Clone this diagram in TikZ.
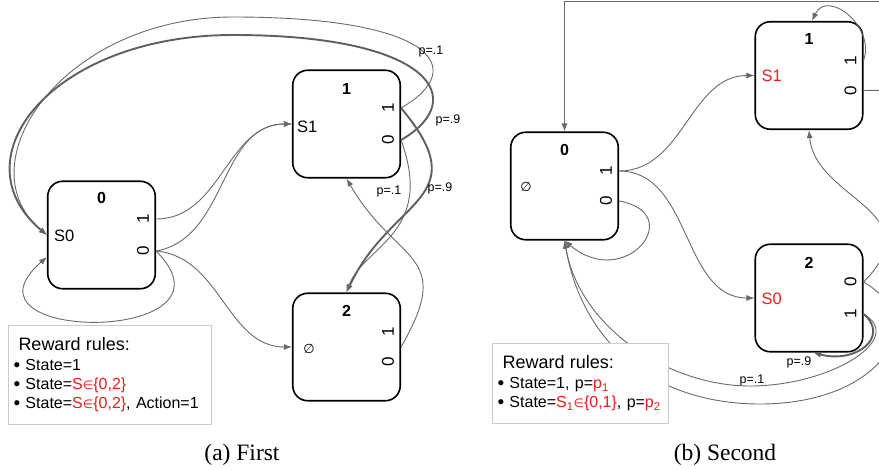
\documentclass[tikz,border=0pt]{standalone}
\usepackage{fontspec}
\setmainfont{Liberation Sans}
\newfontfamily\capfont{Liberation Serif}
\newfontfamily\symfont{DejaVu Sans}
\usetikzlibrary{shapes, arrows.meta, positioning, calc}
\definecolor{linegray}{HTML}{6A6A6A}
\definecolor{rulegray}{HTML}{CCCCCC}
\definecolor{rulered}{HTML}{F21B1B}
\def \boxsize {107.5pt}
\newcommand{\fsz}[1]{\fontsize{#1}{#1}\selectfont}
\newcommand{\bul}{\raisebox{-0.6pt}{\fsz{19}\textbullet}\ }

\begin{document}
\begin{tikzpicture}[x = 1pt, y = 1pt, >= {Latex[length = 8pt, width = 6pt]},
  state/.style = {draw, line width = 1.6pt, rounded corners = 15pt, minimum width = \boxsize, minimum height = \boxsize, inner sep = 0pt},
  title/.style = {font = \fsz{16}\bfseries, inner sep = 1pt},
  port/.style = {rotate = 90, font = \fsz{17}, inner sep = 1pt},
  inlabel/.style = {anchor = west, font = \fsz{16.5}, inner sep = 1pt},
  conn/.style = {draw = linegray, line width = 0.9pt},
  heavy/.style = {draw = linegray!90!black, line width = 1.9pt},
  prob/.style = {font = \fsz{12.5}, inner sep = 1pt},
  rules/.style = {draw = rulegray, line width = 1pt, fill = white, align = left, anchor = north west, inner xsep = 5pt, inner ysep = 0pt, font = \fontsize{16}{19}\selectfont}]
\useasboundingbox (0, 0) rectangle (879, -469);
\clip (0, 0) rectangle (879, -469);

% (a) First
\node (s0a) [state] at (101.5, -235) {};
\node (s1a) [state] at (346.5, -124) {};
\node (s2a) [state] at (346.5, -347) {};

\node (t0a) [title] at ($(s0a.north) + (0, -18)$) {0};
\node (t1a) [title] at ($(s1a.north) + (0, -20)$) {1};
\node (t2a) [title] at ($(s2a.north) + (0, -18)$) {2};

\node (l0a) [inlabel] at ($(s0a.west) + (6, -1)$) {S0};
\node (l1a) [inlabel] at ($(s1a.west) + (4, -3)$) {S1};
\node (l2a) [font = \symfont\fsz{13}] at ($(s2a.west) + (17, -2)$) {∅};

\coordinate (s0aout1) at ($(s0a.east) + (0, 16)$);
\coordinate (s0aout0) at ($(s0a.east) + (0, -16)$);
\coordinate (s1aout1) at ($(s1a.east) + (0, 16)$);
\coordinate (s1aout0) at ($(s1a.east) + (0, -16)$);
\coordinate (s2aout) at (s2a.east);
\node (p0a1) [port] at ($(s0aout1) + (-13, 0)$) {1};
\node (p0a0) [port] at ($(s0aout0) + (-13, 0)$) {0};
\node (p1a1) [port] at ($(s1aout1) + (-13, 0)$) {1};
\node (p1a0) [port] at ($(s1aout0) + (-13, 0)$) {0};
\node (p2a1) [port] at ($(s2aout) + (-13, 15)$) {1};
\node (p2a0) [port] at ($(s2aout) + (-13, -15)$) {0};

\draw[conn, ->] (s0aout1) to [out = 0, in = 180] (s1a.west);
\draw[conn, ->] (s0aout0) to [out = 10, in = 180] (s1a.west);
\draw[conn, ->] (s0aout0) to [out = -5, in = 180] (s2a.west);
\coordinate (s0aback) at ($(s0a.west) + (0, -22)$);
\draw[conn, ->] (s0aout0) to [out = -45, in = 221, looseness = 3.1] (s0aback);

\coordinate (topouta) at (233, -17);
\coordinate (topina) at (233, -35);
\draw[conn, ->] (s1aout1) to [out = 30, in = 0, out distance = 80pt, in distance = 200pt] (topouta)
  to [out = 180, in = 140, out distance = 170pt, in distance = 110pt] (s0a.west);
\draw[heavy, ->] (s1aout0) to [out = 30, in = 0, out distance = 80pt, in distance = 200pt] (topina)
  to [out = 180, in = 140, out distance = 180pt, in distance = 120pt] (s0a.west);
\draw[heavy, ->] (s1aout1) to [out = -50, in = 65, out distance = 120pt, in distance = 105pt] (s2a.north);
\draw[conn, ->] (s1aout0) to [out = -70, in = 70, out distance = 100pt, in distance = 50pt] (s2a.north);
\draw[conn, ->] (s2aout) to [out = 60, in = -60, out distance = 110pt, in distance = 100pt] (s1a.south);

\node (pa1) [prob] at (431, -51) {p=.1};
\node (pa2) [prob] at (448, -120) {p=.9};
\node (pa3) [prob] at (389, -191) {p=.1};
\node (pa4) [prob] at (440, -188) {p=.9};

\node (rulesa) [rules, text width = 193pt, minimum height = 99pt] at (8, -325) {\hspace*{5pt}{\fsz{18}Reward rules:}\\[1pt]
  \bul State=1\\
  \bul State=\textcolor{rulered}{S{\symfont\fsz{12}∈}\{0,2\}}\\
  \bul State=\textcolor{rulered}{S{\symfont\fsz{12}∈}\{0,2\}}, Action=1};
\node (capa) [font = \capfont\fsz{23.5}] at (242, -455) {(a) First};

% (b) Second
\node (s0b) [state] at (564.5, -186) {};
\node (s1b) [state] at (809, -75.5) {};
\node (s2b) [state] at (809, -298) {};

\node (t0b) [title] at ($(s0b.north) + (0, -19)$) {0};
\node (t1b) [title] at ($(s1b.north) + (0, -18)$) {1};
\node (t2b) [title] at ($(s2b.north) + (0, -19)$) {2};

\node (l0b) [font = \symfont\fsz{13}] at ($(s0b.west) + (16, -1)$) {∅};
\node (l1b) [inlabel, text = rulered] at ($(s1b.west) + (6, 0)$) {S1};
\node (l2b) [inlabel, text = rulered] at ($(s2b.west) + (6, -1)$) {S0};

\coordinate (s0bout1) at ($(s0b.east) + (0, 15)$);
\coordinate (s0bout0) at ($(s0b.east) + (0, -15)$);
\coordinate (s1bout1) at ($(s1b.east) + (0, 15)$);
\coordinate (s1bout0) at ($(s1b.east) + (0, -15)$);
\coordinate (s2bout0) at ($(s2b.east) + (0, 16)$);
\coordinate (s2bout1) at ($(s2b.east) + (0, -16)$);
\node (p0b1) [port] at ($(s0bout1) + (-13, 0)$) {1};
\node (p0b0) [port] at ($(s0bout0) + (-13, 0)$) {0};
\node (p1b1) [port] at ($(s1bout1) + (-13, 0)$) {1};
\node (p1b0) [port] at ($(s1bout0) + (-13, 0)$) {0};
\node (p2b0) [port] at ($(s2bout0) + (-13, 0)$) {0};
\node (p2b1) [port] at ($(s2bout1) + (-13, 0)$) {1};

\coordinate (s1bfar) at (910, -90);
\coordinate (s0btop) at (564.5, -1.5);
\draw[conn, ->] (s1bout0) -- (s1bfar) |- (s0btop) -- (s0b.north);
\coordinate (s1bin) at ($(s1b.north) + (3, 0)$);
\draw[conn, ->] (s1bout1) to [out = 70, in = 65, distance = 36pt] (s1bin);
\draw[conn, ->] (s0bout1) to [out = 0, in = 180] (s1b.west);
\draw[conn, ->] (s0bout1) to [out = 0, in = 180] (s2b.west);
\draw[conn, ->] (s0bout0) to [out = -10, in = -40, out distance = 70pt, in distance = 80pt] (s0b.south);
\draw[conn, ->] (s2bout0) to [out = 45, in = -85, out distance = 100pt, in distance = 70pt] (s1b.south);

\coordinate (lowb1) at (750, -386);
\coordinate (lowb2) at (760, -404);
\draw[conn, ->] (s2bout1) to [out = -30, in = 0, out distance = 50pt, in distance = 80pt] (lowb1)
  to [out = 180, in = -80, out distance = 80pt, in distance = 90pt] (s0b.south);
\draw[conn, ->] (s2bout0) to [out = -30, in = 0, out distance = 80pt, in distance = 120pt] (lowb2)
  to [out = 180, in = -80, out distance = 100pt, in distance = 110pt] (s0b.south);
\coordinate (s2bin) at ($(s2b.south) + (4, 0)$);
\draw[heavy, ->] (s2bout1) to [out = -40, in = -15, out distance = 35pt, in distance = 45pt] (s2bin);

\node (pb1) [prob] at (799, -362) {p=.9};
\node (pb2) [prob] at (752, -380) {p=.1};

\node (rulesb) [rules, text width = 166pt, minimum height = 80pt] at (492, -343) {\hspace*{5pt}{\fsz{18}Reward rules:}\\[1pt]
  \bul State=1, p=\textcolor{rulered}{p\textsubscript{1}}\\
  \bul State=\textcolor{rulered}{S\textsubscript{1}{\symfont\fsz{12}∈}\{0,1\}}, p=\textcolor{rulered}{p\textsubscript{2}}};
\node (capb) [font = \capfont\fsz{23.5}] at (725, -455) {(b) Second};

\end{tikzpicture}
\end{document}
